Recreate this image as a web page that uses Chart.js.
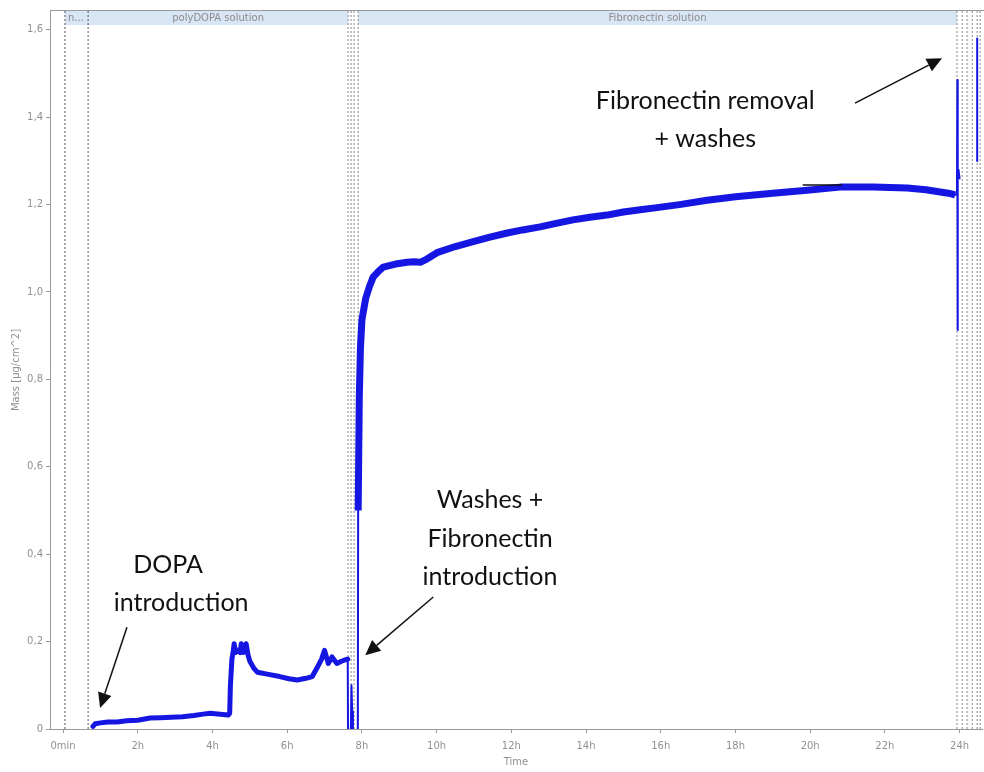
<!DOCTYPE html>
<html>
<head>
<meta charset="utf-8">
<script src="https://cdn.jsdelivr.net/npm/chart.js@4.4.1/dist/chart.umd.min.js"></script>
<style>
    body { margin: 0; background: #fff; }
    #wrap { width: 984px; height: 772px; }
</style>
</head>
<body>
<div id="wrap"><canvas id="qcmChart" width="984" height="772"></canvas></div>
<script>
// Axis ticks
const xTickValues = [0, 2, 4, 6, 8, 10, 12, 14, 16, 18, 20, 22, 24];
const xTickLabels = ['0min', '2h', '4h', '6h', '8h', '10h', '12h', '14h', '16h', '18h', '20h', '22h', '24h'];
const yTickValues = [0, 0.2, 0.4, 0.6, 0.8, 1.0, 1.2, 1.4, 1.6];
const yTickLabels = ['0', '0,2', '0,4', '0,6', '0,8', '1,0', '1,2', '1,4', '1,6'];

// polyDOPA step (hours, µg/cm^2)
const dopaTime = [0.80, 0.86, 1.0, 1.2, 1.45, 1.7, 2.0, 2.33, 2.6, 2.9, 3.2, 3.5, 3.75, 3.94, 4.2, 4.42, 4.46,
    4.48, 4.52, 4.55, 4.58, 4.62, 4.68, 4.74, 4.77, 4.82, 4.87, 4.90, 4.95, 5.0, 5.1, 5.2, 5.5, 5.8, 6.05, 6.27,
    6.5, 6.67, 6.8, 6.92, 7.0, 7.05, 7.1, 7.2, 7.33, 7.45, 7.55, 7.62];
const dopaMass = [0.006, 0.012, 0.014, 0.016, 0.016, 0.019, 0.020, 0.025, 0.026, 0.027, 0.028, 0.031, 0.034, 0.036, 0.034, 0.032, 0.036,
    0.10, 0.16, 0.175, 0.195, 0.175, 0.18, 0.175, 0.195, 0.175, 0.18, 0.195, 0.17, 0.155, 0.14, 0.13, 0.125, 0.12, 0.115, 0.112,
    0.116, 0.12, 0.14, 0.16, 0.18, 0.165, 0.15, 0.165, 0.15, 0.155, 0.158, 0.16];

// washes between the two solutions
const washTime = [7.62, 7.63, 7.70, 7.72, 7.74, 7.76, 7.89, 7.90];
const washMass = [0.16, -0.03, -0.03, 0.10, 0.04, -0.03, -0.03, 0.52];

// Fibronectin adsorption
const fibTime = [7.90, 7.93, 7.96, 8.0, 8.1, 8.2, 8.3, 8.45, 8.57, 8.9, 9.21, 9.4, 9.56, 9.75, 10.01, 10.5, 10.98,
    11.4, 11.89, 12.3, 12.77, 13.2, 13.65, 14.1, 14.56, 15.0, 15.45, 15.9, 16.5, 17.24, 18.0, 19.0, 19.92,
    20.8, 21.69, 22.6, 23.1, 23.48, 23.7, 23.88];
const fibMass = [0.50, 0.76, 0.87, 0.936, 0.985, 1.012, 1.034, 1.048, 1.057, 1.064, 1.068, 1.069, 1.068, 1.076, 1.090, 1.104, 1.115,
    1.125, 1.135, 1.142, 1.149, 1.157, 1.165, 1.171, 1.176, 1.183, 1.188, 1.193, 1.200, 1.210, 1.218, 1.226, 1.233,
    1.240, 1.240, 1.238, 1.234, 1.229, 1.226, 1.222];

// removal + washes at the end
const removalTime = [23.88, 23.93, 23.94, 23.945, 23.95, 23.955, 23.97, 24.0, null, 24.47, 24.471, 24.472];
const removalMass = [1.222, 1.225, 1.485, 0.913, 1.36, 1.26, 1.28, 1.26, null, 1.30, 1.58, 1.30];

// small black mark on the plateau
const markTime = [19.8, 20.85];
const markMass = [1.245, 1.245];

// dotted event lines and phase bands
const eventTimes = [0.05, 0.67, 7.63, 7.71, 7.79, 7.90, 23.93, 24.07, 24.2, 24.34, 24.47, 24.55];
const phaseStart = [0.05, 0.67, 7.90];
const phaseEnd = [0.67, 7.63, 23.93];
const phaseLabels = ['n...', 'polyDOPA solution', 'Fibronectin solution'];

// annotation texts and arrows (in data units)
const noteText = ['Fibronectin removal', '+ washes', 'Washes +', 'Fibronectin', 'introduction', 'DOPA', 'introduction'];
const noteX = [17.19, 17.19, 11.43, 11.43, 11.43, 2.81, 3.16];
const noteY = [1.437, 1.350, 0.524, 0.435, 0.348, 0.375, 0.288];
const arrowFromX = [21.2, 9.91, 1.71];
const arrowFromY = [1.432, 0.302, 0.233];
const arrowToX = [23.53, 8.09, 0.99];
const arrowToY = [1.535, 0.169, 0.048];

const X_MIN = -0.35;
const X_MAX = 24.6;
const Y_MAX = 1.643;
const BLUE = '#1616e2';
const GREY = '#9a9a9a';

function toPoints(xs, ys) {
    return xs.map((x, i) => (x === null ? { x: NaN, y: null } : { x: x, y: ys[i] }));
}

const eventSets = eventTimes.map(t => ({
    data: [{ x: t, y: 0 }, { x: t, y: Y_MAX }],
    borderColor: t < 1 ? '#555' : '#8a8a8a',
    borderWidth: 1,
    borderDash: [2, 2],
    pointRadius: 0,
    order: 5
}));

const phasePlugin = {
    id: 'phases',
    beforeDatasetsDraw(chart) {
        const { ctx, chartArea, scales } = chart;
        const xs = scales.x;
        ctx.save();
        phaseStart.forEach((s, i) => {
            const a = xs.getPixelForValue(s);
            const b = xs.getPixelForValue(phaseEnd[i]);
            ctx.fillStyle = '#d7e5f5';
            ctx.fillRect(a, chartArea.top, b - a, 14);
            ctx.fillStyle = '#8c8c8c';
            ctx.font = '10px "DejaVu Sans"';
            ctx.textBaseline = 'middle';
            if (i === 0) {
                ctx.textAlign = 'left';
                ctx.fillText(phaseLabels[i], a + 3, chartArea.top + 7);
            } else {
                ctx.textAlign = 'center';
                ctx.fillText(phaseLabels[i], (a + b) / 2, chartArea.top + 7);
            }
        });
        // top frame line
        ctx.strokeStyle = GREY;
        ctx.lineWidth = 1;
        ctx.beginPath();
        ctx.moveTo(chartArea.left, chartArea.top - 0.5);
        ctx.lineTo(chart.width, chartArea.top - 0.5);
        ctx.stroke();
        ctx.restore();
    }
};

const notePlugin = {
    id: 'notes',
    afterDatasetsDraw(chart) {
        const { ctx, scales } = chart;
        const xs = scales.x, ys = scales.y;
        ctx.save();
        ctx.fillStyle = '#111';
        ctx.font = '25px Lato';
        ctx.textAlign = 'center';
        ctx.textBaseline = 'middle';
        noteText.forEach((t, i) => {
            ctx.fillText(t, xs.getPixelForValue(noteX[i]), ys.getPixelForValue(noteY[i]));
        });
        arrowFromX.forEach((fx, i) => {
            const x1 = xs.getPixelForValue(fx), y1 = ys.getPixelForValue(arrowFromY[i]);
            const x2 = xs.getPixelForValue(arrowToX[i]), y2 = ys.getPixelForValue(arrowToY[i]);
            const ang = Math.atan2(y2 - y1, x2 - x1);
            const head = 15, half = 7;
            const bx = x2 - head * Math.cos(ang), by = y2 - head * Math.sin(ang);
            ctx.strokeStyle = '#111';
            ctx.lineWidth = 1.5;
            ctx.beginPath();
            ctx.moveTo(x1, y1);
            ctx.lineTo(bx, by);
            ctx.stroke();
            ctx.beginPath();
            ctx.moveTo(x2, y2);
            ctx.lineTo(bx + half * Math.sin(ang), by - half * Math.cos(ang));
            ctx.lineTo(bx - half * Math.sin(ang), by + half * Math.cos(ang));
            ctx.closePath();
            ctx.fill();
        });
        ctx.restore();
    }
};

const lineStyle = { borderColor: BLUE, pointRadius: 0, borderJoinStyle: 'round', borderCapStyle: 'round', order: 2 };

new Chart(document.getElementById('qcmChart').getContext('2d'), {
    type: 'line',
    data: {
        datasets: [
            { ...lineStyle, data: toPoints(dopaTime, dopaMass), borderWidth: 5 },
            { ...lineStyle, data: toPoints(washTime, washMass), borderWidth: 2 },
            { ...lineStyle, data: toPoints(fibTime, fibMass), borderWidth: 7, borderCapStyle: 'butt' },
            { ...lineStyle, data: toPoints(removalTime, removalMass), borderWidth: 2 },
            { data: toPoints(markTime, markMass), borderColor: '#111', borderWidth: 1.5, pointRadius: 0, order: 1 },
            ...eventSets
        ]
    },
    options: {
        responsive: false,
        animation: false,
        spanGaps: false,
        layout: { padding: { top: 11, right: 2, left: 0, bottom: 0 } },
        plugins: {
            legend: { display: false },
            tooltip: { enabled: false }
        },
        scales: {
            x: {
                type: 'linear',
                min: X_MIN,
                max: X_MAX,
                afterBuildTicks: scale => { scale.ticks = xTickValues.map(v => ({ value: v })); },
                afterFit: scale => { scale.height = 43; },
                ticks: {
                    callback: (v, i) => xTickLabels[i],
                    color: '#909090',
                    font: { family: 'DejaVu Sans', size: 10 },
                    padding: 7,
                    maxRotation: 0,
                    autoSkip: false
                },
                grid: { drawOnChartArea: false, tickLength: 4, color: GREY },
                border: { color: GREY },
                title: {
                    display: true,
                    text: 'Time',
                    color: '#909090',
                    font: { family: 'DejaVu Sans', size: 10 },
                    padding: { top: 2, bottom: 4 }
                }
            },
            y: {
                type: 'linear',
                min: 0,
                max: Y_MAX,
                afterBuildTicks: scale => { scale.ticks = yTickValues.map(v => ({ value: v })); },
                afterFit: scale => { scale.width = 50; },
                ticks: {
                    callback: (v, i) => yTickLabels[i],
                    color: '#909090',
                    font: { family: 'DejaVu Sans', size: 10 },
                    padding: 3
                },
                grid: { drawOnChartArea: false, tickLength: 4, color: GREY },
                border: { color: GREY },
                title: {
                    display: true,
                    text: 'Mass [µg/cm^2]',
                    color: '#909090',
                    font: { family: 'DejaVu Sans', size: 10 },
                    padding: { top: 10, bottom: 4 }
                }
            }
        }
    },
    plugins: [phasePlugin, notePlugin]
});
</script>
</body>
</html>
